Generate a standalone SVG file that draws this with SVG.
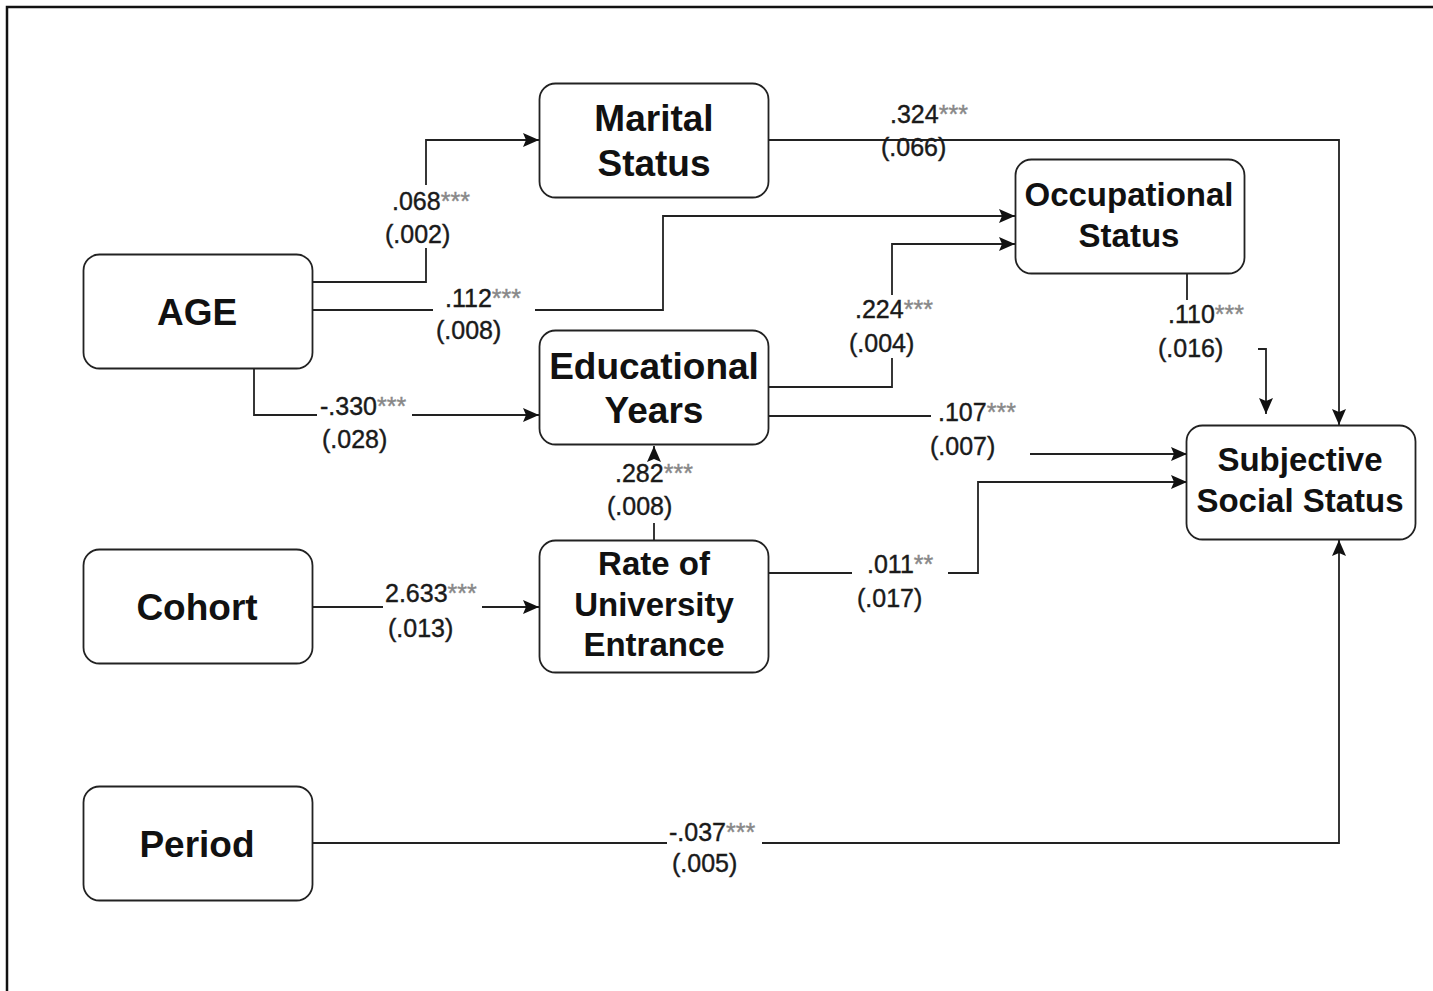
<svg xmlns="http://www.w3.org/2000/svg" width="1433" height="991" viewBox="0 0 1433 991">
<defs>
<marker id="arr" markerUnits="userSpaceOnUse" markerWidth="18" markerHeight="16" refX="16" refY="7" orient="auto">
<path d="M0,0 L16,7 L0,14 L3,7 z" fill="#111"/>
</marker>
<style>
.box{fill:#fff;stroke:#222;stroke-width:1.8}
.nt{font-family:"Liberation Sans",Arial,sans-serif;font-weight:bold;fill:#111;text-anchor:middle}
.big{font-size:37px}
.sm{font-size:33px}
.edge{fill:none;stroke:#222;stroke-width:1.8;marker-end:url(#arr)}
.lb{font-family:"Liberation Sans",Arial,sans-serif;font-size:25px;fill:#1a1a1a;stroke:#1a1a1a;stroke-width:0.4}
.st{fill:#888;stroke:#888}
</style>
</defs>
<rect width="1433" height="991" fill="#fff"/>
<path d="M7,991 V7 H1433" fill="none" stroke="#111" stroke-width="2.5"/>

<g id="connectors">
<path class="edge" d="M312,282 H426 V248 M426,185 V140 H539"/>
<path class="edge" d="M312,310 H433 M535,310 H663 V216 H1015"/>
<path class="edge" d="M254,368 V415 H317 M412,415 H539"/>
<path class="edge" d="M768,140 H1339 V425"/>
<path class="edge" d="M768,387 H892 V358 M892,295 V244 H1015"/>
<path class="edge" d="M768,416 H931 M1030,454 H1187"/>
<path class="edge" d="M1187,273 V300 M1258,349 H1266 V414"/>
<path class="edge" d="M654,540 V523 M654,459 V446"/>
<path class="edge" d="M768,573 H852 M948,573 H978 V482 H1187"/>
<path class="edge" d="M312,607 H383 M482,607 H539"/>
<path class="edge" d="M312,843 H667 M762,843 H1339 V540"/>
</g>

<g id="labels">
<text class="lb" x="392" y="210">.068<tspan class="st">***</tspan></text>
<text class="lb" x="385" y="243">(.002)</text>
<text class="lb" x="445" y="307">.112<tspan class="st">***</tspan></text>
<text class="lb" x="436" y="339">(.008)</text>
<text class="lb" x="320" y="415">-.330<tspan class="st">***</tspan></text>
<text class="lb" x="322" y="448">(.028)</text>
<text class="lb" x="890" y="123">.324<tspan class="st">***</tspan></text>
<text class="lb" x="881" y="156">(.066)</text>
<text class="lb" x="855" y="318">.224<tspan class="st">***</tspan></text>
<text class="lb" x="849" y="352">(.004)</text>
<text class="lb" x="938" y="421">.107<tspan class="st">***</tspan></text>
<text class="lb" x="930" y="455">(.007)</text>
<text class="lb" x="1168" y="323">.110<tspan class="st">***</tspan></text>
<text class="lb" x="1158" y="357">(.016)</text>
<text class="lb" x="615" y="482">.282<tspan class="st">***</tspan></text>
<text class="lb" x="607" y="515">(.008)</text>
<text class="lb" x="867" y="573">.011<tspan class="st">**</tspan></text>
<text class="lb" x="857" y="607">(.017)</text>
<text class="lb" x="385" y="602">2.633<tspan class="st">***</tspan></text>
<text class="lb" x="388" y="637">(.013)</text>
<text class="lb" x="669" y="841">-.037<tspan class="st">***</tspan></text>
<text class="lb" x="672" y="872">(.005)</text>
</g>

<g id="marital">
<rect class="box" x="539.5" y="83.5" width="229" height="114" rx="16"/>
<text class="nt big" x="654" y="131">Marital</text>
<text class="nt big" x="654" y="176">Status</text>
</g>
<g id="occupational">
<rect class="box" x="1015.5" y="159.5" width="229" height="114" rx="16"/>
<text class="nt sm" x="1129" y="206">Occupational</text>
<text class="nt sm" x="1129" y="247">Status</text>
</g>
<g id="age">
<rect class="box" x="83.5" y="254.5" width="229" height="114" rx="16"/>
<text class="nt big" x="197" y="325">AGE</text>
</g>
<g id="educational">
<rect class="box" x="539.5" y="330.5" width="229" height="114" rx="16"/>
<text class="nt big" x="654" y="379">Educational</text>
<text class="nt big" x="654" y="423">Years</text>
</g>
<g id="sss">
<rect class="box" x="1186.5" y="425.5" width="229" height="114" rx="16"/>
<text class="nt sm" x="1300" y="471">Subjective</text>
<text class="nt sm" x="1300" y="512">Social Status</text>
</g>
<g id="cohort">
<rect class="box" x="83.5" y="549.5" width="229" height="114" rx="16"/>
<text class="nt big" x="197" y="620">Cohort</text>
</g>
<g id="rate">
<rect class="box" x="539.5" y="540.5" width="229" height="132" rx="16"/>
<text class="nt sm" x="654" y="575">Rate of</text>
<text class="nt sm" x="654" y="616">University</text>
<text class="nt sm" x="654" y="656">Entrance</text>
</g>
<g id="period">
<rect class="box" x="83.5" y="786.5" width="229" height="114" rx="16"/>
<text class="nt big" x="197" y="857">Period</text>
</g>
</svg>
